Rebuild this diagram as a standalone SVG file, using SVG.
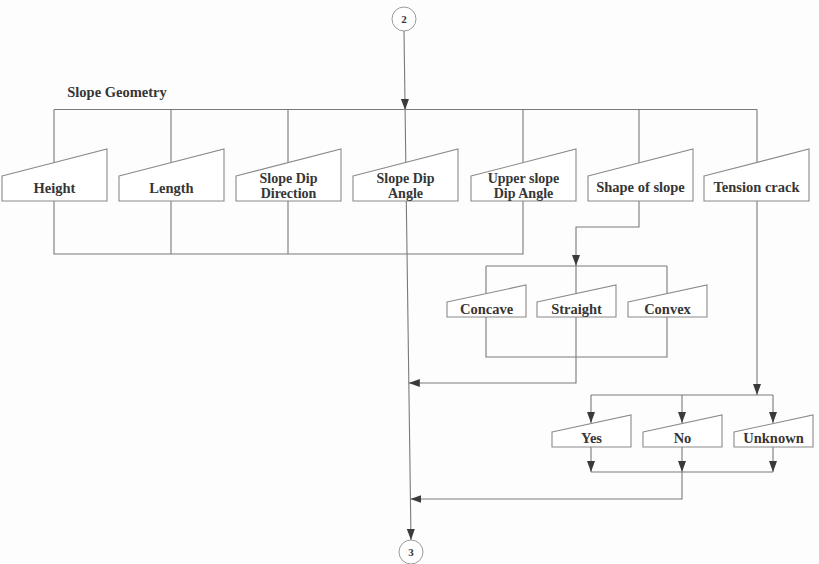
<svg xmlns="http://www.w3.org/2000/svg" width="819" height="564" viewBox="0 0 819 564">
  <style>
    .ln { fill: none; stroke: #7a7a7a; stroke-width: 1.1; }
    .box { fill: #ffffff; stroke: #8a8a8a; stroke-width: 1.1; }
    .lbl { font-family: "Liberation Serif", "Times New Roman", serif; font-weight: bold; font-size: 14.5px; fill: #363636; text-anchor: middle; }
    .lbl2 { font-size: 14px; }
    .num { font-family: "Liberation Serif", "Times New Roman", serif; font-weight: bold; font-size: 11px; fill: #363636; text-anchor: middle; }
    .conn { fill: #ffffff; stroke: #9a9a9a; stroke-width: 1; }
  </style>
  <defs>
    <marker id="arr" markerUnits="userSpaceOnUse" markerWidth="12" markerHeight="8" refX="11" refY="4" orient="auto">
      <path d="M0,0 L11,4 L0,8 Z" fill="#3a3a3a"/>
    </marker>
  </defs>

  <rect width="819" height="564" fill="#fdfdfd"/>

  <text class="lbl" x="117" y="97">Slope Geometry</text>

  <g id="connectors">
    <!-- main flow, split around the Slope Dip Angle box -->
    <path class="ln" d="M404,31 L405.1,110" marker-end="url(#arr)"/>
    <path class="ln" d="M405.1,110 L405.8,163"/>
    <path class="ln" d="M406.3,201 L411,540" marker-end="url(#arr)"/>
    <!-- slope geometry fan-out / fan-in -->
    <path class="ln" d="M54,109.5 H757"/>
    <path class="ln" d="M54,109.5 V163 M171,109.5 V163 M288,109.5 V163 M523,109.5 V163 M639,109.5 V163 M757,109.5 V163"/>
    <path class="ln" d="M54,201 V254 H523 V201 M171,201 V254 M288,201 V254"/>
    <!-- shape of slope branch -->
    <path class="ln" d="M639,201 V227 H576 V266" marker-end="url(#arr)"/>
    <path class="ln" d="M486,266 H667 M486,266 V294 M576,266 V294 M667,266 V294"/>
    <path class="ln" d="M486,317 V357 H667 V317"/>
    <path class="ln" d="M576,317 V383 H408.8" marker-end="url(#arr)"/>
    <!-- tension crack branch -->
    <path class="ln" d="M757,201 V395" marker-end="url(#arr)"/>
    <path class="ln" d="M591,395 H773"/>
    <path class="ln" d="M591,395 V423" marker-end="url(#arr)"/>
    <path class="ln" d="M682,395 V423" marker-end="url(#arr)"/>
    <path class="ln" d="M773,395 V423" marker-end="url(#arr)"/>
    <path class="ln" d="M591,447 V472" marker-end="url(#arr)"/>
    <path class="ln" d="M682,447 V472" marker-end="url(#arr)"/>
    <path class="ln" d="M773,447 V472" marker-end="url(#arr)"/>
    <path class="ln" d="M591,472 H773"/>
    <path class="ln" d="M682,472 V499 H410.4" marker-end="url(#arr)"/>
  </g>

  <g id="start">
    <circle class="conn" cx="404" cy="19" r="12"/>
    <text class="num" x="404" y="23">2</text>
  </g>
  <g id="end">
    <circle class="conn" cx="411" cy="552" r="12"/>
    <text class="num" x="411" y="556">3</text>
  </g>

  <!-- manual-input shapes: low left edge, tall right edge -->
  <g id="height">
    <path class="box" transform="translate(2,149)" d="M0,27 L105,0 L105,52 L0,52 Z"/>
    <text class="lbl" x="54.5" y="193">Height</text>
  </g>
  <g id="length">
    <path class="box" transform="translate(119,149)" d="M0,27 L105,0 L105,52 L0,52 Z"/>
    <text class="lbl" x="171.5" y="193">Length</text>
  </g>
  <g id="dip-direction">
    <path class="box" transform="translate(236,149)" d="M0,27 L105,0 L105,52 L0,52 Z"/>
    <text class="lbl lbl2" x="288.5" y="183">Slope Dip</text>
    <text class="lbl lbl2" x="288.5" y="198">Direction</text>
  </g>
  <g id="dip-angle">
    <path class="box" transform="translate(353,149)" d="M0,27 L105,0 L105,52 L0,52 Z"/>
    <text class="lbl lbl2" x="405.5" y="183">Slope Dip</text>
    <text class="lbl lbl2" x="405.5" y="198">Angle</text>
  </g>
  <g id="upper-dip-angle">
    <path class="box" transform="translate(471,149)" d="M0,27 L105,0 L105,52 L0,52 Z"/>
    <text class="lbl lbl2" x="523.5" y="183">Upper slope</text>
    <text class="lbl lbl2" x="523.5" y="198">Dip Angle</text>
  </g>
  <g id="shape-of-slope">
    <path class="box" transform="translate(588,149)" d="M0,27 L105,0 L105,52 L0,52 Z"/>
    <text class="lbl" x="640.5" y="192">Shape of slope</text>
  </g>
  <g id="tension-crack">
    <path class="box" transform="translate(704,149)" d="M0,27 L105,0 L105,52 L0,52 Z"/>
    <text class="lbl" x="756.5" y="192">Tension crack</text>
  </g>

  <g id="concave">
    <path class="box" transform="translate(447,285)" d="M0,17 L79,0 L79,32 L0,32 Z"/>
    <text class="lbl" x="486.5" y="314">Concave</text>
  </g>
  <g id="straight">
    <path class="box" transform="translate(537,285)" d="M0,17 L79,0 L79,32 L0,32 Z"/>
    <text class="lbl" x="576.5" y="314">Straight</text>
  </g>
  <g id="convex">
    <path class="box" transform="translate(628,285)" d="M0,17 L79,0 L79,32 L0,32 Z"/>
    <text class="lbl" x="667.5" y="314">Convex</text>
  </g>

  <g id="yes">
    <path class="box" transform="translate(552,415)" d="M0,17 L79,0 L79,32 L0,32 Z"/>
    <text class="lbl" x="591.5" y="443">Yes</text>
  </g>
  <g id="no">
    <path class="box" transform="translate(643,415)" d="M0,17 L79,0 L79,32 L0,32 Z"/>
    <text class="lbl" x="682.5" y="443">No</text>
  </g>
  <g id="unknown">
    <path class="box" transform="translate(734,415)" d="M0,17 L79,0 L79,32 L0,32 Z"/>
    <text class="lbl" x="773.5" y="443">Unknown</text>
  </g>
</svg>
